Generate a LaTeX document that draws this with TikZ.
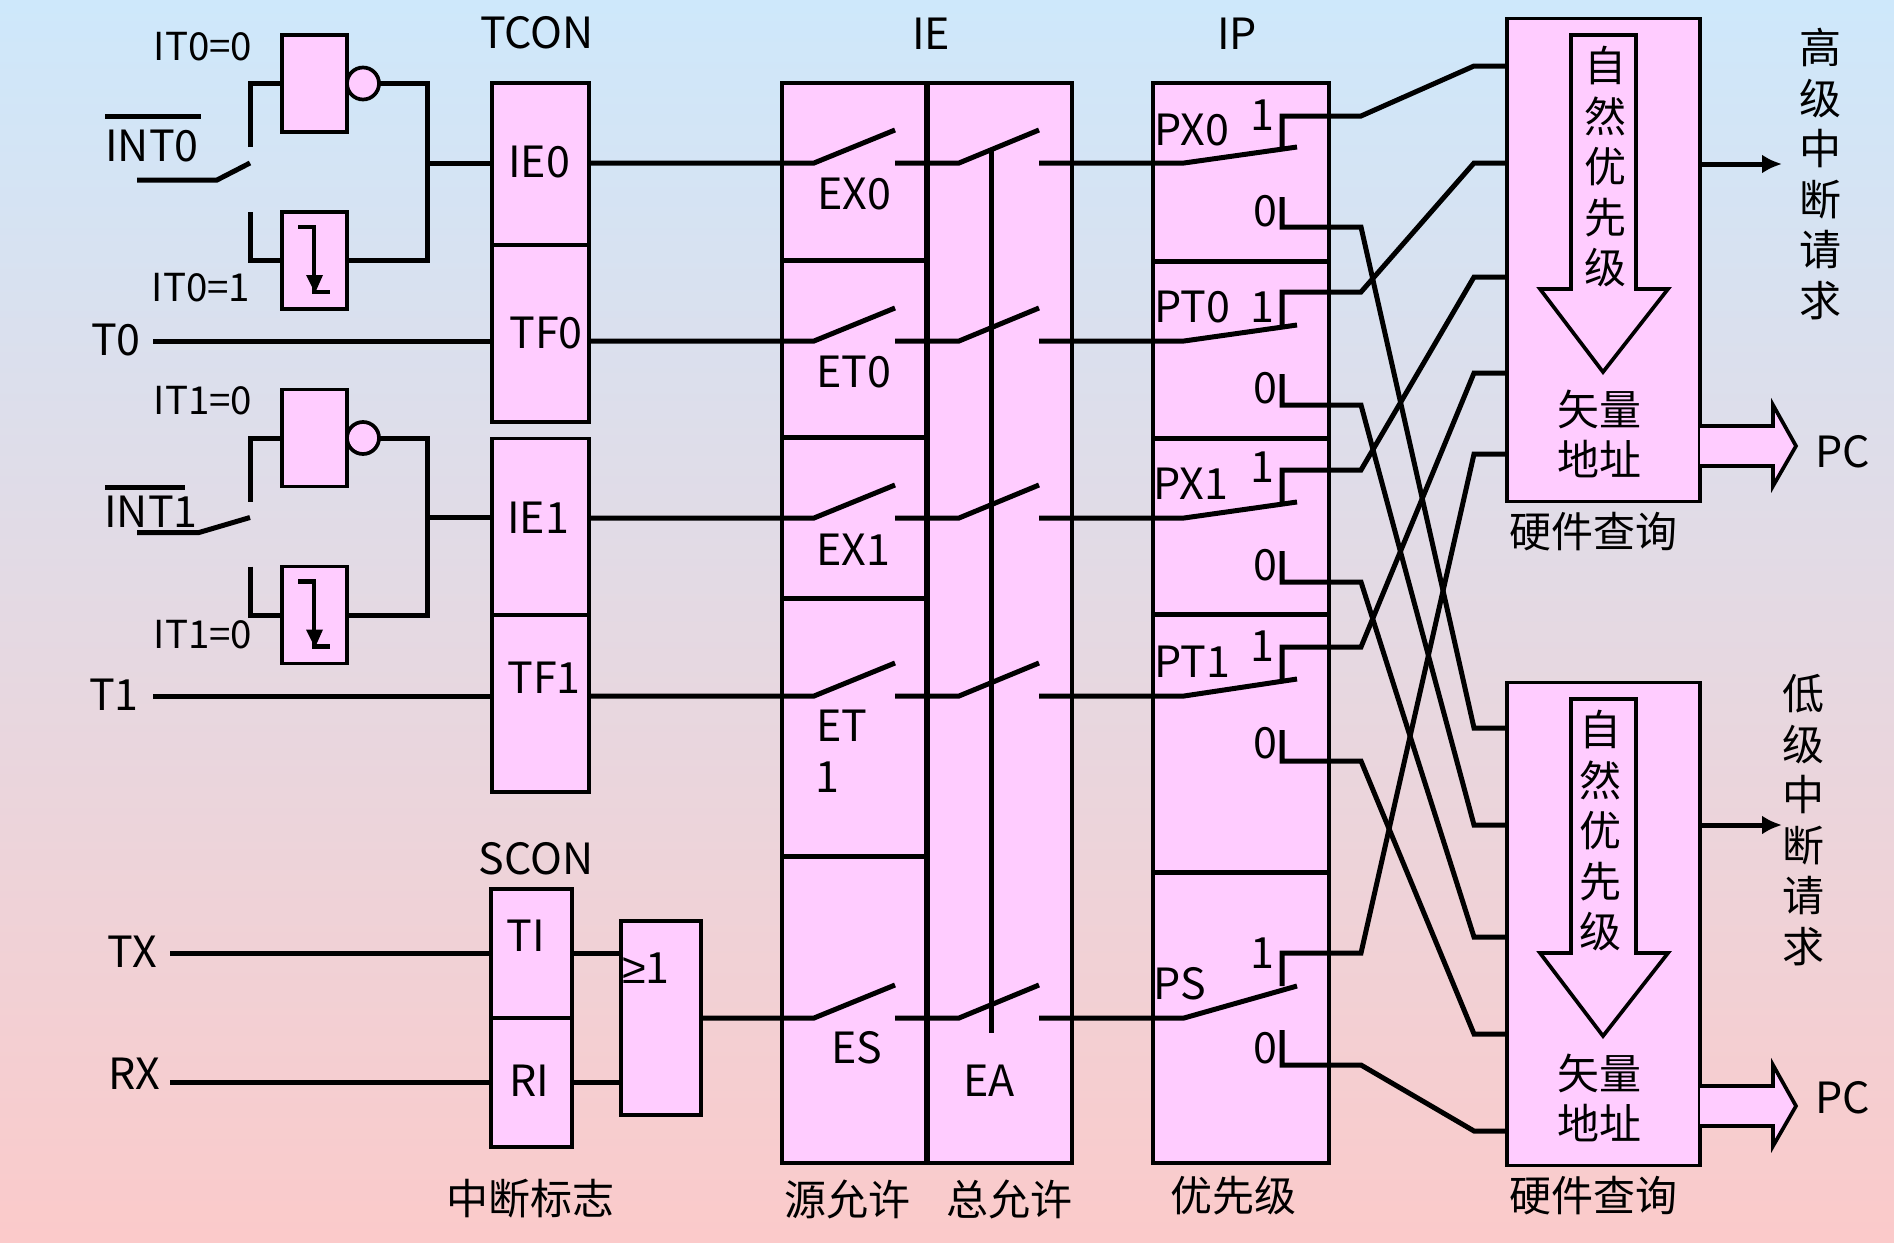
\documentclass[tikz,border=0pt]{standalone}
\usepackage{fontspec}
\setmainfont{Noto Sans CJK SC}
\newfontfamily\symfont{Liberation Sans}
\usetikzlibrary{arrows.meta}
\definecolor{boxpink}{HTML}{FFCCFF}
\definecolor{bgtop}{HTML}{CEE8FB}
\definecolor{bgbot}{HTML}{FBCACA}
\tikzset{
  box/.style={draw,fill=boxpink,line width=3.7pt,inner sep=0pt,outer sep=0pt},
  wire/.style={line width=5pt},
  lbl/.style={inner sep=0pt,outer sep=0pt,font=\fontsize{43}{50.5}\selectfont,align=center},
  cjklbl/.style={lbl,font=\fontsize{42}{50.5}\selectfont},
  smalllbl/.style={lbl,font=\fontsize{38.5}{44}\selectfont}
}
\begin{document}
\begin{tikzpicture}[x=1pt,y=-1pt]
  \shade[top color=bgtop,bottom color=bgbot] (0,0) rectangle (1894,1242);
  % input gates
  \foreach \g/\d/\kx/\ky/\reg/\cy in {0/0/217/180/ie0/163,1/354.5/199/178/ie1/518}{
    \begin{scope}[yshift=-\d pt]
      \node[box,minimum width=65pt,minimum height=97pt] (nt\g) at (314.5,83.5) {};
      \node[box,circle,minimum size=32pt] (bub\g) at (363,83.5) {};
      \node[box,minimum width=65pt,minimum height=97pt] (edge\g) at (314.5,260.5) {};
      \coordinate (pin\g) at (137,\ky);
      \coordinate (kink\g) at (\kx,\ky);
      \coordinate (tip\g) at (250,163);
      \coordinate (upp\g) at (250,147);
      \coordinate (low\g) at (250,212);
      \coordinate (join\g) at (427,163);
      \draw[wire] (pin\g) -- (kink\g) -- (tip\g);
      \draw[wire] (upp\g) |- (nt\g.west);
      \draw[wire] (low\g) |- (edge\g.west);
      \draw[wire] (bub\g.east) -| (join\g) |- (edge\g.east);
      \draw[line width=4.5pt] (298,227) -- (314,227) -- (314,292) -- (330,292);
      \fill (306,275) -- (323,275) -- (315,293) -- cycle;
    \end{scope}
  }
  % flag registers
  \foreach \nm/\cy/\h/\txt/\ty/\tx in {ie0/164/162/IE0/162/539,tf0/333.5/177/TF0/333/546,ie1/527/177/IE1/518/538,tf1/703.5/177/TF1/678/544}{
    \node[box,minimum width=97pt,minimum height=\h pt] (\nm) at (540.5,\cy) {};
    \node[lbl] (t\nm) at (\tx,\ty) {\txt};
  }
  \node[box,minimum width=81pt,minimum height=129pt] (ti) at (531.5,953.5) {};
  \node[box,minimum width=81pt,minimum height=129pt] (ri) at (531.5,1082.5) {};
  \node[box,minimum width=80pt,minimum height=194pt] (orgate) at (661,1018) {};
  % enable and priority cells
  \foreach \nm/\cy/\h in {ex0/171.5/177,et0/348.5/177,ex1/517.5/161,et1/727/258,es/1009.5/307}{
    \node[box,minimum width=145pt,minimum height=\h pt] (\nm) at (854.5,\cy) {};
  }
  \node[box,minimum width=145pt,minimum height=1080pt] (ea) at (999.5,623) {};
  \foreach \nm/\cy/\h in {px0/172/178,pt0/349.5/177,px1/526/176,pt1/743/258,ps/1017.5/291}{
    \node[box,minimum width=176pt,minimum height=\h pt] (\nm) at (1241,\cy) {};
  }
  \foreach \nm in {et0,ex1,et1,es,pt0,px1,pt1,ps}{
    \draw[wire] (\nm.north west) -- (\nm.north east);
  }
  \node[box,minimum width=193pt,minimum height=483pt] (hihw) at (1603.5,260) {};
  \node[box,minimum width=193pt,minimum height=483pt] (lohw) at (1603.5,924) {};
  \draw[line width=6pt] (ea.north west) -- (ea.south west);
  % source wires
  \draw[wire] (join0) -- (ie0.west |- join0);
  \draw[wire] (join1) -- (ie1.west |- join1);
  \coordinate (t0in) at (153,341);
  \coordinate (t1in) at (153,696);
  \coordinate (txin) at (170,953);
  \coordinate (rxin) at (170,1082);
  \draw[wire] (t0in) -- (tf0.west |- t0in);
  \draw[wire] (t1in) -- (tf1.west |- t1in);
  \draw[wire] (txin) -- (ti.west |- txin);
  \draw[wire] (rxin) -- (ri.west |- rxin);
  \draw[wire] (ti.east |- txin) -- (orgate.west |- txin);
  \draw[wire] (ri.east |- rxin) -- (orgate.west |- rxin);
  % switches and crossing wires
  \foreach \n/\y/\src/\tip/\one/\zt/\zb/\hi/\lo in {
    1/163/ie0/147/116/197/227/66/728,
    2/341/tf0/325/292/374/405/163/825,
    3/518/ie1/502/470/551/582/277/937,
    4/696/tf1/679/647/730/761/373/1034,
    5/1018/orgate/986/953/1030/1065/454/1131}{
    \coordinate (swa\n) at (814,\y);
    \coordinate (swb\n) at (959,\y);
    \coordinate (swc\n) at (1184,\y);
    \draw[wire] (\src.east |- swa\n) -- (swa\n) -- (895,\y-33);
    \draw[wire] (895,\y) -- (swb\n) -- (1039,\y-33);
    \draw[wire] (1039,\y) -- (swc\n) -- (1297,\tip);
    \coordinate (one\n) at (1282,\tip);
    \coordinate (zero\n) at (1282,\zt);
    \draw[wire] (one\n) |- (1361,\one) -- (1474,\hi) -- (hihw.west |- 0,\hi);
    \draw[wire] (zero\n) |- (1361,\zb) -- (1474,\lo) -- (lohw.west |- 0,\lo);
  }
  \coordinate (eatop) at (991,149);
  \coordinate (eabot) at (991,1033);
  \draw[wire] (eatop) -- (eabot);
  % priority arrows
  \foreach \b/\d/\tx in {hi/0/1605,lo/664/1600}{
    \begin{scope}[yshift=-\d pt]
      \draw[line width=3.7pt,fill=boxpink] (1571,35) -- (1636,35) -- (1636,289) -- (1668,289) -- (1603,372) -- (1540,289) -- (1571,289) -- cycle;
      \node[cjklbl] (nat\b) at (\tx,167) {自\\然\\优\\先\\级};
      \node[cjklbl] (vec\b) at (1599,434) {矢量\\地址};
      \node[cjklbl] (qry\b) at (1593,532) {硬件查询};
    \end{scope}
  }
  \foreach \b/\d/\c in {hi/0/446,lo/660/1106}{
    \coordinate (pcu\b) at (1773,\c-20);
    \coordinate (pcd\b) at (1773,\c+20);
    \draw[line width=3.7pt,fill=boxpink] (\b hw.east |- pcu\b) -- (pcu\b) -- (1773,\c-41) -- (1796,\c) -- (1773,\c+40) -- (pcd\b) -- (\b hw.east |- pcd\b);
  }
  \coordinate (hiout) at (1782,164);
  \coordinate (loout) at (1782,825);
  \draw[wire,-{Latex[length=20pt,width=19pt]}] (hihw.east |- hiout) -- (hiout);
  \draw[wire,-{Latex[length=20pt,width=19pt]}] (lohw.east |- loout) -- (loout);
  % labels
  \foreach \nm/\x/\y/\txt in {it00/203/47/IT0=0,it01/201/288/IT0=1,it10/203/401/IT1=0,it11/203/635/IT1=0}{
    \node[smalllbl] (\nm) at (\x,\y) {\txt};
  }
  \foreach \nm/\x/\y/\txt in {int0/152/146/INT0,int1/151/512/INT1,t0/116/340/T0,t1/114/695/T1,tx/132/952/TX,rx/134/1074/RX,
    tcon/537/33/TCON,scon/536/859/SCON,ietitle/931/34/IE,iptitle/1237/34/IP,
    tti/526/936/TI,tri/529/1081/RI,
    tex0/854/194/EX0,tet0/854/372/ET0,tex1/853/550/EX1,tet1a/842/726/ET,tet1b/827/777/1,tes/857/1048/ES,tea/989/1081/EA,
    onea/1262/115/1,oneb/1262/307/1,onec/1262/467/1,oned/1262/646/1,onee/1262/953/1,
    zeroa/1265/211/0,zerob/1265/388/0,zeroc/1265/565/0,zerod/1265/743/0,zeroe/1265/1048/0,
    tpx0/1192/130/PX0,tpt0/1192/307/PT0,tpx1/1191/484/PX1,tpt1/1192/662/PT1,tps/1180/984/PS,
    pchi/1843/452/PC,pclo/1843/1098/PC}{
    \node[lbl] (\nm) at (\x,\y) {\txt};
  }
  \foreach \nm/\x/\y/\txt in {flagname/530/1199/中断标志,srcname/847/1199/源允许,allname/1009/1199/总允许,priname/1233/1196/优先级}{
    \node[cjklbl] (\nm) at (\x,\y) {\txt};
  }
  \node[lbl] (orl) at (646,968) {{\symfont ≥}1};
  \node[cjklbl] (hireq) at (1820,174) {高\\级\\中\\断\\请\\求};
  \node[cjklbl] (loreq) at (1803,820) {低\\级\\中\\断\\请\\求};
  \coordinate (barl) at (105,116);
  \coordinate (barr) at (201,116);
  \draw[wire] (barl) -- (barr);
  \coordinate (barm) at (105,487);
  \coordinate (barn) at (185,487);
  \draw[wire] (barm) -- (barn);
\end{tikzpicture}
\end{document}
